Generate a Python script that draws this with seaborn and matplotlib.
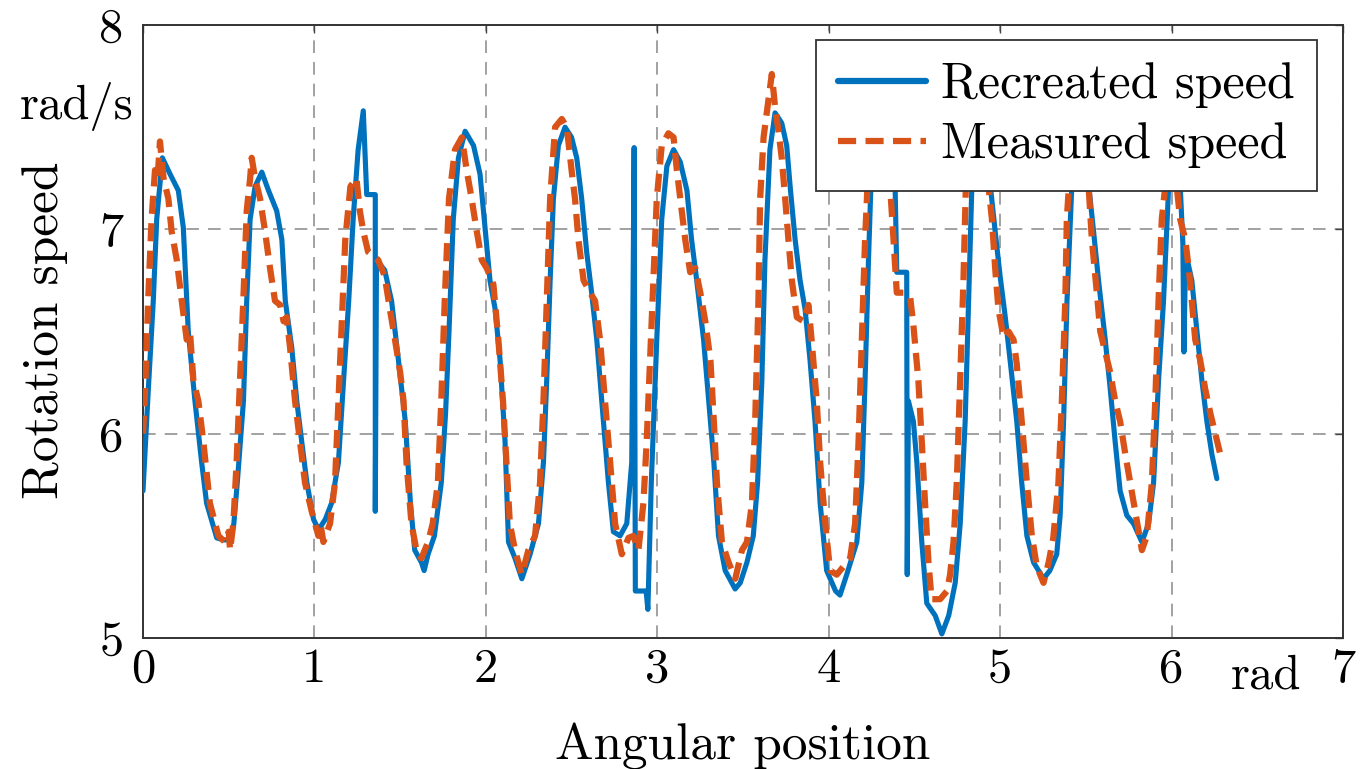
import numpy as np
import pandas as pd
import matplotlib
matplotlib.use("Agg")
import matplotlib.pyplot as plt
import seaborn as sns

# ---------------- data ----------------
x_recreated = [0.0, 0.03, 0.06, 0.08, 0.113, 0.158, 0.206, 0.235, 0.264, 0.303, 0.342, 0.371, 0.43, 0.47, 0.51,
               0.53, 0.55, 0.586, 0.605, 0.625, 0.654, 0.693, 0.732, 0.78, 0.81, 0.83, 0.868, 0.897, 0.926, 0.956,
               0.995, 1.024, 1.063, 1.1, 1.14, 1.17, 1.2, 1.226, 1.255, 1.285, 1.305, 1.355, 1.355, 1.362, 1.41,
               1.45, 1.49, 1.53, 1.56, 1.585, 1.624, 1.64, 1.663, 1.7, 1.74, 1.765, 1.785, 1.81, 1.84, 1.879,
               1.928, 1.966, 1.995, 2.024, 2.054, 2.083, 2.112, 2.132, 2.17, 2.21, 2.258, 2.307, 2.336, 2.355,
               2.375, 2.394, 2.423, 2.462, 2.5, 2.53, 2.559, 2.588, 2.617, 2.647, 2.686, 2.715, 2.744, 2.783,
               2.822, 2.851, 2.865, 2.872, 2.935, 2.945, 2.965, 2.997, 3.026, 3.056, 3.095, 3.134, 3.173, 3.2,
               3.23, 3.27, 3.3, 3.33, 3.357, 3.396, 3.454, 3.484, 3.523, 3.56, 3.585, 3.61, 3.628, 3.657, 3.687,
               3.726, 3.755, 3.775, 3.804, 3.833, 3.862, 3.891, 3.92, 3.95, 3.988, 4.04, 4.066, 4.105, 4.164,
               4.193, 4.212, 4.232, 4.246, 4.28, 4.33, 4.387, 4.397, 4.455, 4.458, 4.465, 4.494, 4.514, 4.543,
               4.572, 4.621, 4.66, 4.7, 4.738, 4.767, 4.796, 4.816, 4.835, 4.87, 4.91, 4.942, 4.971, 5.0, 5.03,
               5.058, 5.097, 5.126, 5.156, 5.195, 5.253, 5.29, 5.33, 5.35, 5.37, 5.39, 5.418, 5.46, 5.49, 5.516,
               5.545, 5.574, 5.613, 5.642, 5.671, 5.7, 5.739, 5.778, 5.827, 5.866, 5.895, 5.924, 5.953, 5.983,
               6.015, 6.05, 6.066, 6.072, 6.082, 6.118, 6.148, 6.177, 6.206, 6.235, 6.264]
y_recreated = [5.72, 6.2, 6.65, 7.05, 7.35, 7.27, 7.19, 7.01, 6.5, 6.16, 5.86, 5.66, 5.49, 5.48, 5.48,
               5.56, 5.76, 6.16, 6.65, 7.05, 7.21, 7.28, 7.19, 7.09, 6.95, 6.65, 6.42, 6.16, 5.96, 5.76,
               5.58, 5.53, 5.58, 5.66, 5.86, 6.26, 6.65, 7.05, 7.39, 7.58, 7.17, 7.17, 5.62, 6.85, 6.8,
               6.65, 6.36, 6.06, 5.66, 5.43, 5.37, 5.33, 5.41, 5.5, 5.76, 6.1, 6.5, 7.05, 7.35, 7.48,
               7.41, 7.27, 7.01, 6.75, 6.61, 6.36, 5.96, 5.47, 5.39, 5.29, 5.41, 5.56, 5.86, 6.26,
               6.75, 7.15, 7.41, 7.5, 7.45, 7.35, 7.15, 6.89, 6.69, 6.46, 6.06, 5.76, 5.52, 5.5,
               5.56, 5.86, 7.4, 5.23, 5.23, 5.14, 5.76, 6.46, 7.05, 7.31, 7.39, 7.33, 7.19, 6.95,
               6.75, 6.46, 6.16, 5.86, 5.5, 5.33, 5.24, 5.27, 5.37, 5.5, 5.76, 6.26, 6.85, 7.39, 7.57,
               7.52, 7.41, 7.21, 6.95, 6.75, 6.61, 6.36, 6.06, 5.66, 5.33, 5.23, 5.21, 5.31, 5.47,
               5.76, 6.26, 6.85, 7.21, 7.6, 7.55, 7.22, 6.79, 6.79, 5.31, 6.16, 6.06, 5.86, 5.47,
               5.17, 5.11, 5.02, 5.11, 5.27, 5.56, 6.06, 6.65, 7.21, 7.6, 7.55, 7.22, 6.99, 6.77, 6.57,
               6.36, 6.06, 5.76, 5.5, 5.37, 5.29, 5.33, 5.41, 5.6, 6.06, 6.65, 7.21, 7.6, 7.55, 7.22,
               6.99, 6.75, 6.46, 6.22, 5.96, 5.72, 5.6, 5.56, 5.47, 5.56, 5.76, 6.26, 6.65, 7.21,
               7.55, 7.22, 6.93, 6.4, 6.89, 6.75, 6.5, 6.26, 6.06, 5.9, 5.78]

x_measured = [0.0, 0.012, 0.03, 0.05, 0.07, 0.085, 0.099, 0.12, 0.148, 0.167, 0.197, 0.226, 0.255, 0.274, 0.294,
              0.323, 0.352, 0.39, 0.44, 0.478, 0.5, 0.508, 0.527, 0.546, 0.566, 0.585, 0.605, 0.625, 0.634,
              0.654, 0.683, 0.712, 0.741, 0.77, 0.8, 0.82, 0.838, 0.858, 0.887, 0.916, 0.945, 0.984, 1.023,
              1.035, 1.052, 1.091, 1.12, 1.14, 1.16, 1.18, 1.21, 1.245, 1.265, 1.285, 1.313, 1.343, 1.372,
              1.41, 1.44, 1.47, 1.5, 1.52, 1.537, 1.566, 1.595, 1.624, 1.663, 1.69, 1.72, 1.74, 1.76, 1.785,
              1.82, 1.86, 1.888, 1.917, 1.947, 1.976, 2.005, 2.044, 2.073, 2.1, 2.12, 2.14, 2.17, 2.21, 2.248,
              2.287, 2.316, 2.336, 2.355, 2.375, 2.404, 2.443, 2.472, 2.5, 2.52, 2.54, 2.57, 2.608, 2.637,
              2.666, 2.695, 2.725, 2.754, 2.793, 2.832, 2.861, 2.89, 2.919, 2.938, 2.958, 2.977, 2.997, 3.026,
              3.065, 3.095, 3.114, 3.134, 3.163, 3.192, 3.222, 3.251, 3.28, 3.31, 3.33, 3.348, 3.377, 3.416,
              3.455, 3.494, 3.523, 3.552, 3.571, 3.59, 3.6, 3.62, 3.668, 3.687, 3.707, 3.726, 3.746, 3.765,
              3.785, 3.814, 3.853, 3.882, 3.9, 3.93, 3.95, 3.98, 4.008, 4.047, 4.086, 4.125, 4.154, 4.174,
              4.193, 4.212, 4.226, 4.26, 4.31, 4.358, 4.378, 4.397, 4.436, 4.475, 4.494, 4.523, 4.543, 4.562,
              4.582, 4.6, 4.65, 4.69, 4.708, 4.728, 4.747, 4.767, 4.786, 4.8, 4.84, 4.89, 4.932, 4.952, 4.971,
              4.99, 5.02, 5.049, 5.078, 5.097, 5.126, 5.156, 5.185, 5.214, 5.253, 5.283, 5.31, 5.34, 5.36,
              5.38, 5.389, 5.43, 5.48, 5.516, 5.535, 5.564, 5.584, 5.613, 5.642, 5.671, 5.7, 5.73, 5.759,
              5.788, 5.827, 5.856, 5.885, 5.905, 5.924, 5.943, 5.963, 5.995, 6.03, 6.05, 6.08, 6.1, 6.118,
              6.138, 6.167, 6.196, 6.226, 6.255, 6.284]
y_measured = [6.0, 6.2, 6.65, 7.05, 7.29, 7.25, 7.43, 7.25, 7.15, 6.99, 6.85, 6.65, 6.46, 6.5, 6.26,
              6.16, 5.96, 5.66, 5.5, 5.47, 5.52, 5.43, 5.56, 5.86, 6.26, 6.65, 7.09, 7.25, 7.35,
              7.25, 7.15, 6.99, 6.81, 6.65, 6.63, 6.55, 6.57, 6.42, 6.16, 5.96, 5.76, 5.62, 5.5,
              5.56, 5.47, 5.56, 5.76, 6.16, 6.55, 6.95, 7.21, 7.25, 7.09, 6.99, 6.89, 6.87, 6.85,
              6.77, 6.61, 6.46, 6.3, 6.16, 5.86, 5.56, 5.43, 5.39, 5.47, 5.56, 5.76, 6.16, 6.65, 7.15,
              7.39, 7.45, 7.29, 7.15, 6.99, 6.85, 6.81, 6.73, 6.46, 6.16, 5.86, 5.56, 5.43, 5.31, 5.43,
              5.5, 5.76, 6.16, 6.65, 7.15, 7.5, 7.54, 7.5, 7.29, 7.15, 6.95, 6.75, 6.69, 6.65,
              6.46, 6.16, 5.86, 5.56, 5.41, 5.49, 5.5, 5.43, 5.66, 5.96, 6.36, 6.75, 7.15, 7.41,
              7.47, 7.45, 7.29, 7.15, 6.95, 6.79, 6.81, 6.69, 6.55, 6.36, 6.06, 5.76, 5.47, 5.37,
              5.29, 5.43, 5.47, 5.66, 6.06, 6.65, 7.15, 7.45, 7.76, 7.6, 7.48, 7.35, 7.15, 6.95,
              6.75, 6.57, 6.55, 6.63, 6.46, 6.16, 5.86, 5.56, 5.33, 5.31, 5.35, 5.39, 5.56, 5.96,
              6.46, 6.95, 7.21, 7.6, 7.55, 7.21, 6.95, 6.69, 6.69, 6.67, 6.53, 6.26, 5.96, 5.66,
              5.37, 5.19, 5.19, 5.23, 5.31, 5.47, 5.76, 6.26, 6.75, 7.21, 7.6, 7.55, 7.21, 7.05, 6.81,
              6.61, 6.47, 6.5, 6.46, 6.34, 6.06, 5.76, 5.5, 5.35, 5.27, 5.37, 5.49, 5.76, 6.16,
              6.65, 7.05, 7.6, 7.55, 7.21, 6.95, 6.69, 6.5, 6.4, 6.3, 6.16, 6.06, 5.9, 5.76,
              5.62, 5.43, 5.5, 5.76, 6.16, 6.65, 7.05, 7.21, 7.5, 7.21, 7.05, 6.95, 6.81, 6.65,
              6.46, 6.36, 6.22, 6.1, 6.0, 5.9]

series_names = ["Recreated speed", "Measured speed"]
x_ticks = [0, 1, 2, 3, 4, 5, 6, 7]
x_tick_labels = ["0", "1", "2", "3", "4", "5", "6", "7"]
y_ticks = [5, 6, 7, 8]
y_tick_labels = ["5", "6", "7", "8"]
x_unit, x_unit_pos = "rad", 6.55
y_unit, y_unit_pos = "rad/s", 7.63
x_label = "Angular position"
y_label = "Rotation speed"

# ---------------- style ----------------
sns.set_style("white")
plt.rcParams["font.family"] = ["cmr10", "DejaVu Serif"]
plt.rcParams["mathtext.fontset"] = "cm"
plt.rcParams["axes.unicode_minus"] = False
plt.rcParams["text.color"] = "black"
plt.rcParams["axes.labelcolor"] = "black"

BLUE = "#0072BD"
ORANGE = "#D95319"
TICK_FS = 35
LABEL_FS = 37
LEG_FS = 36

fig = plt.figure(figsize=(13.6, 7.69), dpi=100)
ax = fig.add_axes([143/1360, 1-638/769, 1200/1360, 613/769])

df_r = pd.DataFrame({"x": x_recreated, "y": y_recreated})
df_m = pd.DataFrame({"x": x_measured, "y": y_measured})

sns.lineplot(data=df_r, x="x", y="y", ax=ax, color=BLUE, linewidth=3.7,
             estimator=None, sort=False, label=series_names[0], zorder=3)
sns.lineplot(data=df_m, x="x", y="y", ax=ax, color=ORANGE, linewidth=4.5,
             estimator=None, sort=False, label=series_names[1], zorder=4)
ax.lines[1].set_dashes([2.9, 1.5])

ax.set_xlim(0, 7)
ax.set_ylim(5, 8)
ax.set_xticks(x_ticks, labels=x_tick_labels)
ax.set_yticks(y_ticks, labels=y_tick_labels)
ax.set_xticks([x_unit_pos], labels=[x_unit], minor=True)
ax.set_yticks([y_unit_pos], labels=[y_unit], minor=True)
ax.tick_params(which="both", labelsize=TICK_FS, direction="in",
               left=False, bottom=False, top=True, right=True,
               colors="#444444", labelcolor="black")
ax.tick_params(which="major", length=6, width=1.0)
ax.tick_params(which="minor", length=0, top=False, right=False)
ax.tick_params(axis="x", which="major", pad=7)
ax.tick_params(axis="x", which="minor", pad=12)
ax.tick_params(axis="y", which="major", pad=14)
ax.tick_params(axis="y", which="minor", pad=7)

ax.grid(True, which="major", color="#9a9a9a", linewidth=1.3, linestyle=(0, (7, 5)))
ax.set_axisbelow(True)
for s in ax.spines.values():
    s.set_color("#333333")
    s.set_linewidth(1.4)

ax.set_xlabel(x_label, fontsize=LABEL_FS, va="center", color="black")
ax.set_ylabel(y_label, fontsize=LABEL_FS, va="center", color="black")
ax.xaxis.set_label_coords(0.5, (638 - 746) / 613)
ax.yaxis.set_label_coords((45 - 143) / 1200, (638 - 330) / 613)

leg = ax.legend(loc="upper right", bbox_to_anchor=((1317 - 143) / 1200, (638 - 40) / 613),
                borderaxespad=0, fontsize=LEG_FS, frameon=True, fancybox=False, framealpha=1,
                edgecolor="#333333", handlelength=1.75, handletextpad=0.3,
                borderpad=0.45, labelspacing=0.28)
leg.get_frame().set_linewidth(1.3)
leg.set_zorder(10)
for h in leg.get_lines():
    h.set_linewidth(4.5)
for t in leg.get_texts():
    t.set_color("black")

fig.savefig("out.png", dpi=100)
